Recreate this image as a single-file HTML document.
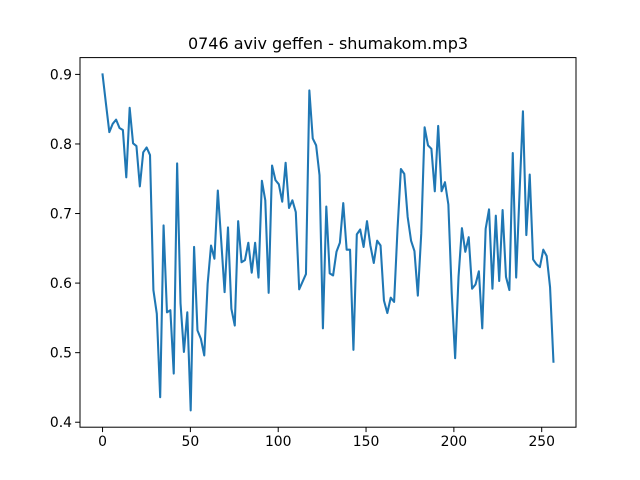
<!DOCTYPE html>
<html><head><meta charset="utf-8"><style>
html,body{margin:0;padding:0;background:#fff;}
svg{display:block;font-family:"DejaVu Sans","Liberation Sans",sans-serif;}
</style></head><body>
<svg id="chart" width="640" height="480" viewBox="0 0 640 480">
<rect width="640" height="480" fill="#fff"/>
<text x="328" y="49" text-anchor="middle" font-size="16" fill="#000">0746 aviv geffen - shumakom.mp3</text>
<g id="ticks"></g>
<polyline id="series" fill="none" stroke="#1f77b4" stroke-width="2.08" stroke-linejoin="round" stroke-linecap="square"/>
<rect x="80" y="57.6" width="496" height="369.6" fill="none" stroke="#000" stroke-width="1"/>
</svg>
<script>
const values = [0.900,0.858,0.817,0.829,0.835,0.823,0.820,0.752,0.852,0.801,0.797,0.739,0.788,0.795,0.784,0.590,0.556,0.436,0.683,0.558,0.561,0.470,0.772,0.571,0.501,0.558,0.417,0.652,0.532,0.520,0.496,0.599,0.654,0.635,
0.733,0.661,0.587,0.680,0.563,0.539,0.689,0.630,0.633,0.658,0.615,0.658,0.608,0.747,0.719,0.586,0.769,0.748,0.742,0.717,0.773,0.708,0.719,0.702,0.591,0.602,0.613,0.877,0.808,0.798,0.755,0.535,0.710,0.614,
0.611,0.645,0.658,0.715,0.648,0.648,0.504,0.670,0.677,0.652,0.689,0.654,0.629,0.661,0.654,0.575,0.557,0.579,0.573,0.677,0.764,0.757,0.695,0.661,0.646,0.582,0.671,0.824,0.798,0.793,0.732,0.826,0.732,0.745,
0.713,0.585,0.492,0.609,0.679,0.645,0.666,0.592,0.598,0.617,0.535,0.678,0.706,0.592,0.697,0.603,0.705,0.609,0.590,0.787,0.608,0.730,0.847,0.669,0.756,0.634,0.627,0.623,0.648,0.639,0.594,0.487];
const xStep = 1.93;
const xTicks = [0,50,100,150,200,250];
const yTicks = [0.4,0.5,0.6,0.7,0.8,0.9];
const yTickLabels = ["0.4","0.5","0.6","0.7","0.8","0.9"];

const L=80,R=576,T=57.6,B=427.2;
const xMax=(values.length-1)*xStep, xPad=xMax*0.05;
const vMin=Math.min(...values), vMax=Math.max(...values), yPad=(vMax-vMin)*0.05;
const x0=-xPad, x1=xMax+xPad, y0=vMin-yPad, y1=vMax+yPad;
function sx(x){return L+(x-x0)/(x1-x0)*(R-L);}
function sy(v){return B-(v-y0)/(y1-y0)*(B-T);}
const NS="http://www.w3.org/2000/svg";
const g=document.getElementById('ticks');
xTicks.forEach(t=>{
  const px=sx(t);
  const ln=document.createElementNS(NS,'line');
  ln.setAttribute('x1',px);ln.setAttribute('x2',px);ln.setAttribute('y1',B);ln.setAttribute('y2',B+4.9);
  ln.setAttribute('stroke','#000');ln.setAttribute('stroke-width','1');
  
  
  g.appendChild(ln);
  const tx=document.createElementNS(NS,'text');
  tx.setAttribute('x',px);tx.setAttribute('y',B+19);tx.setAttribute('text-anchor','middle');tx.setAttribute('font-size','13.9');
  tx.textContent=String(t);
  
  
  g.appendChild(tx);
});
yTicks.forEach((t,i)=>{
  const py=sy(t);
  const ln=document.createElementNS(NS,'line');
  ln.setAttribute('x1',L-4.9);ln.setAttribute('x2',L);ln.setAttribute('y1',py);ln.setAttribute('y2',py);
  ln.setAttribute('stroke','#000');ln.setAttribute('stroke-width','1');
  
  
  g.appendChild(ln);
  const tx=document.createElementNS(NS,'text');
  tx.setAttribute('x',L-8);tx.setAttribute('y',py+5);tx.setAttribute('text-anchor','end');tx.setAttribute('font-size','13.9');
  tx.textContent=yTickLabels[i];
  
  
  g.appendChild(tx);
});
document.getElementById('series').setAttribute('points',values.map((v,i)=>sx(i*xStep).toFixed(2)+','+sy(v).toFixed(2)).join(' '));
</script>
</body></html>
